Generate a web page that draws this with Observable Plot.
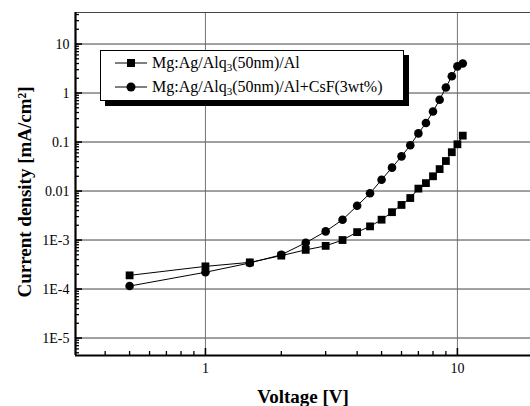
<!DOCTYPE html>
<html><head><meta charset="utf-8">
<script src="https://cdn.jsdelivr.net/npm/d3@7"></script>
<script src="https://cdn.jsdelivr.net/npm/@observablehq/plot@0.6"></script>
<style>
html,body{margin:0;padding:0;background:#fff;overflow:hidden}
#wrap{position:relative;width:530px;height:406px}
#legend{position:absolute;left:100px;top:50px;width:302px;height:49px;border:1px solid #000;background:#fff;box-shadow:5px 5px 0 #000;font-family:"Liberation Serif",serif;font-size:16px;color:#000}
.row{position:absolute;left:14px;height:22px;display:flex;align-items:center;white-space:nowrap}
.row svg{margin-right:4px}
sub{font-size:11px;vertical-align:-3px;line-height:0}
</style>
</head><body>
<div id="wrap"><div id="chart"></div><div id="legend"></div></div>
<script>
const voltage = [0.5,1,1.5,2,2.5,3,3.5,4,4.5,5,5.5,6,6.5,7,7.5,8,8.5,9,9.5,10,10.5];
const jAl  = [1.9e-4,2.9e-4,3.5e-4,4.8e-4,6.3e-4,7.6e-4,1.0e-3,1.45e-3,1.9e-3,2.6e-3,3.7e-3,5.2e-3,7.2e-3,1.12e-2,1.45e-2,2.0e-2,2.8e-2,4.1e-2,6.2e-2,9.0e-2,1.35e-1];
const jCsF = [1.15e-4,2.2e-4,3.4e-4,5.0e-4,8.8e-4,1.5e-3,2.6e-3,5.0e-3,9.0e-3,1.7e-2,3.0e-2,5.1e-2,8.6e-2,1.5e-1,2.45e-1,4.2e-1,7.3e-1,1.3,2.2,3.5,4.0];
const seriesNames = ["Mg:Ag/Alq₃(50nm)/Al", "Mg:Ag/Alq₃(50nm)/Al+CsF(3wt%)"];
const seriesSymbols = ["square", "circle"];
const yTicks = [1e-5,1e-4,1e-3,1e-2,1e-1,1,10];
const yTickLabels = ["1E-5","1E-4","1E-3","0.01","0.1","1","10"];
const xTicks = [1,10];
const xTickLabels = ["1","10"];
const xTitle = "Voltage [V]";
const yTitle = "Current density [mA/cm²]";

const xDomain = [0.305, 19.5];
const yDomain = [4.4e-6, 44];
const W = 530, H = 406, mL = 75, mR = 0, mT = 12, mB = 51;
const fw = W - mL - mR, fh = H - mT - mB;

const data = [];
voltage.forEach((v,i) => {
  data.push({v, j: jAl[i], s: seriesNames[0]});
  data.push({v, j: jCsF[i], s: seriesNames[1]});
});
const minorX = [];
for (const d of [0.1,1,10]) for (let k=2;k<=9;k++) { const t=d*k; if (t>xDomain[0] && t<xDomain[1]) minorX.push(t); }
const minorY = [];
for (let e=-6;e<=1;e++) for (let k=2;k<=9;k++) { const t=k*Math.pow(10,e); if (t>yDomain[0] && t<yDomain[1]) minorY.push(t); }

const serif = "'Liberation Serif', 'Times New Roman', serif";
const chart = Plot.plot({
  width: W, height: H, marginLeft: mL, marginRight: mR, marginTop: mT, marginBottom: mB,
  style: {fontFamily: serif, background: "#fff", color: "#000", overflow: "visible"},
  x: {type: "log", domain: xDomain, axis: null},
  y: {type: "log", domain: yDomain, axis: null},
  marks: [
    Plot.gridY(yTicks, {stroke: "#222", strokeOpacity: 0.85, strokeWidth: 1}),
    Plot.gridX(xTicks, {stroke: "#666", strokeOpacity: 0.9, strokeWidth: 1}),
    Plot.ruleY([yDomain[1]], {stroke: "#444", strokeWidth: 1}),
    Plot.tickX(minorX, {x: d => d, stroke: "#000", strokeWidth: 1.3, insetTop: fh - 4}),
    Plot.tickX(xTicks, {x: d => d, stroke: "#000", strokeWidth: 1.6, insetTop: fh - 7}),
    Plot.tickY(minorY, {y: d => d, stroke: "#000", strokeWidth: 1.3, insetRight: fw - 4}),
    Plot.tickY(yTicks, {y: d => d, stroke: "#000", strokeWidth: 1.6, insetRight: fw - 7}),
    Plot.ruleX([xDomain[0]], {stroke: "#000", strokeWidth: 2.2}),
    Plot.ruleY([yDomain[0]], {stroke: "#000", strokeWidth: 2.2}),
    Plot.line(data, {x: "v", y: "j", z: "s", stroke: "#000", strokeWidth: 1}),
    Plot.dot(data.filter(d => d.s === seriesNames[0]), {x: "v", y: "j", symbol: "square", r: 4.4, fill: "#000", stroke: "none"}),
    Plot.dot(data.filter(d => d.s === seriesNames[1]), {x: "v", y: "j", symbol: "circle", r: 4.3, fill: "#000", stroke: "none"}),
    Plot.text(yTicks, {y: d => d, text: (d,i) => yTickLabels[i], frameAnchor: "left", textAnchor: "end", dx: -6, fontSize: 14, fill: "#000"}),
    Plot.text(xTicks, {x: d => d, text: (d,i) => xTickLabels[i], frameAnchor: "bottom", lineAnchor: "top", dy: 8, fontSize: 14, fill: "#000"}),
    Plot.text([xTitle], {frameAnchor: "bottom", textAnchor: "middle", lineAnchor: "middle", dy: 41, fontSize: 19, fontWeight: "bold", fill: "#000"}),
    Plot.text([yTitle], {frameAnchor: "left", textAnchor: "middle", rotate: -90, lineAnchor: "middle", dx: -51, dy: 8, fontSize: 19, fontWeight: "bold", fill: "#000"})
  ]
});
document.getElementById("chart").appendChild(chart);

const legend = document.getElementById("legend");
seriesNames.forEach((name, i) => {
  const row = document.createElement("div");
  row.className = "row";
  row.style.top = (1 + i * 24) + "px";
  const sym = seriesSymbols[i] === "square"
    ? '<rect x="12" y="7" width="8" height="8" fill="#000"/>'
    : '<circle cx="16" cy="11" r="4.5" fill="#000"/>';
  row.innerHTML = '<svg width="33" height="22"><line x1="0" x2="32" y1="11" y2="11" stroke="#000" stroke-width="1"/>' + sym + '</svg>'
    + '<span>' + name.replace("₃", "<sub>3</sub>") + '</span>';
  legend.appendChild(row);
});
</script>
</body></html>
